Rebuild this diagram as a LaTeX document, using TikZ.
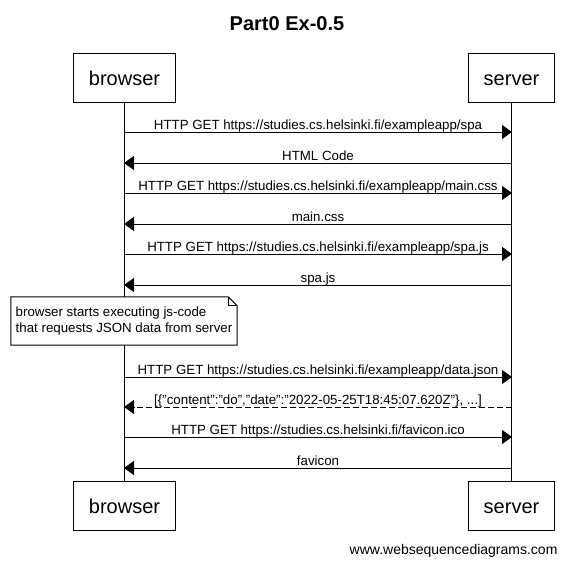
\documentclass[tikz,border=0pt]{standalone}
\usepackage{fontspec}
\setmainfont{Liberation Sans}
\usetikzlibrary{arrows.meta,positioning}
\begin{document}
\begin{tikzpicture}[x=1pt,y=-1pt]
\tikzstyle{actor} = [rectangle, draw=black, line width=1pt, minimum height=49pt, inner xsep=15pt, text height=20pt, text depth=4pt, font=\fontsize{20}{24}\selectfont]
\tikzstyle{arrow} = [line width=1pt, -{Triangle[length=10pt,width=14pt]}]
\tikzstyle{reply} = [arrow, dash pattern=on 6pt off 3pt]
\tikzstyle{msg} = [midway, anchor=base, yshift=3pt, inner sep=0pt, font=\fontsize{13.3}{15}\selectfont]
%
\useasboundingbox (0,0) rectangle (570,565);
\node (title) at (287,24) {\fontsize{20}{24}\selectfont\bfseries Part0 Ex-0.5};
%
\node (browser)  [actor] at (124.5,77.5) {browser};
\node (server)   [actor] at (511.5,77.5) {server};
\node (browser2) [actor] at (124.5,505.5) {browser};
\node (server2)  [actor] at (511.5,505.5) {server};
\draw [line width=1pt] (browser) -- (browser2);
\draw [line width=1pt] (server) -- (server2);
%
\coordinate (b1) at (124,132);  \coordinate (s1) at (512,132);
\coordinate (b2) at (124,163);  \coordinate (s2) at (512,163);
\coordinate (b3) at (124,193);  \coordinate (s3) at (512,193);
\coordinate (b4) at (124,224);  \coordinate (s4) at (512,224);
\coordinate (b5) at (124,254);  \coordinate (s5) at (512,254);
\coordinate (b6) at (124,285);  \coordinate (s6) at (512,285);
\coordinate (b7) at (124,377);  \coordinate (s7) at (512,377);
\coordinate (b8) at (124,407);  \coordinate (s8) at (512,407);
\coordinate (b9) at (124,437);  \coordinate (s9) at (512,437);
\coordinate (b10) at (124,468); \coordinate (s10) at (512,468);
%
\draw [arrow] (b1) -- node[msg] {HTTP GET https://studies.cs.helsinki.fi/exampleapp/spa} (s1);
\draw [arrow] (s2) -- node[msg] {HTML Code} (b2);
\draw [arrow] (b3) -- node[msg] {HTTP GET https://studies.cs.helsinki.fi/exampleapp/main.css} (s3);
\draw [arrow] (s4) -- node[msg] {main.css} (b4);
\draw [arrow] (b5) -- node[msg] {HTTP GET https://studies.cs.helsinki.fi/exampleapp/spa.js} (s5);
\draw [arrow] (s6) -- node[msg] {spa.js} (b6);
%
\node (note) [fill=white, minimum width=226pt, minimum height=48pt, inner sep=0pt, align=left, font=\fontsize{13.3}{16}\selectfont] at (124,321) {browser starts executing js-code\\that requests JSON data from server};
\draw [line width=1pt] (note.north west) -- ([xshift=-9pt]note.north east) -- ([yshift=-9pt]note.north east) -- (note.south east) -- (note.south west) -- cycle;
\draw [line width=1pt] ([xshift=-9pt]note.north east) |- ([yshift=-9pt]note.north east);
%
\draw [arrow] (b7) -- node[msg] {HTTP GET https://studies.cs.helsinki.fi/exampleapp/data.json} (s7);
\draw [reply] (s8) -- node[msg, fill=white, inner xsep=3pt] {[\{"content":"do","date":"2022-05-25T18:45:07.620Z"\}, ...]} (b8);
\draw [arrow] (b9) -- node[msg] {HTTP GET https://studies.cs.helsinki.fi/favicon.ico} (s9);
\draw [arrow] (s10) -- node[msg] {favicon} (b10);
%
\node (footer) [anchor=base east, font=\fontsize{14}{16}\selectfont] at (561,554) {www.websequencediagrams.com};
\end{tikzpicture}
\end{document}
